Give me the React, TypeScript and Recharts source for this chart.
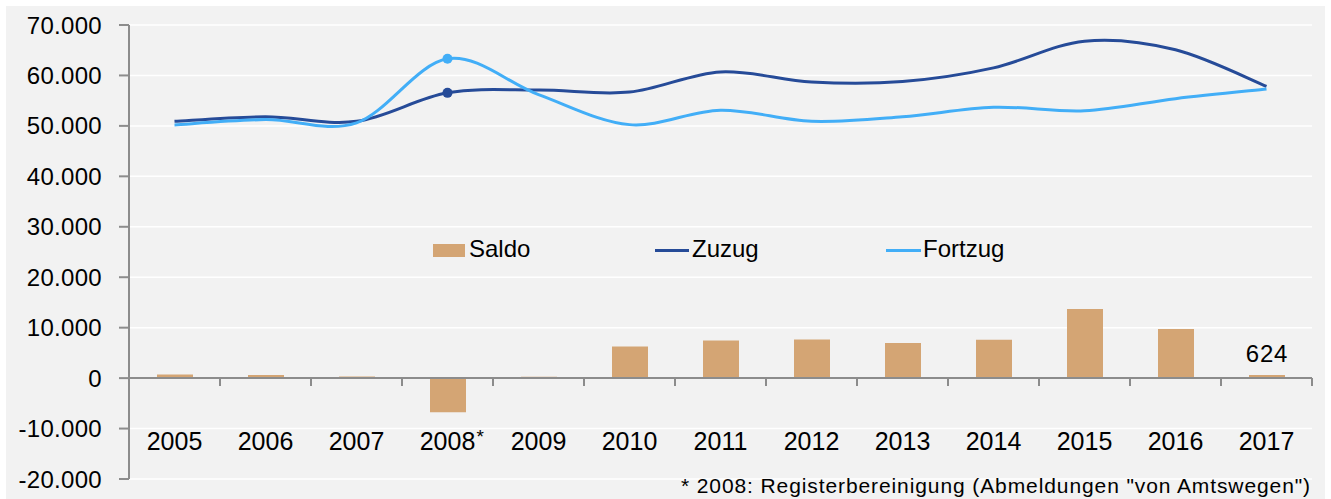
import React from "react";
import { ComposedChart, Bar, Line, XAxis, YAxis, CartesianGrid, ReferenceLine, LabelList } from "recharts";

const years = ["2005", "2006", "2007", "2008*", "2009", "2010", "2011", "2012", "2013", "2014", "2015", "2016", "2017"];
const saldo = [720, 600, 300, -6750, 250, 6270, 7460, 7660, 6940, 7600, 13690, 9720, 624];
const zuzug = [50900, 51800, 50900, 56550, 57100, 56700, 60700, 58700, 58800, 61500, 66800, 65100, 57850];
const fortzug = [50200, 51250, 50600, 63300, 56200, 50250, 53100, 50900, 51800, 53700, 53000, 55400, 57300];
const yTicks = [-20000, -10000, 0, 10000, 20000, 30000, 40000, 50000, 60000, 70000];

const data = years.map((year, i) => ({ year, saldo: saldo[i], zuzug: zuzug[i], fortzug: fortzug[i] }));

const W = 1331;
const H = 499;
const M = { top: 25, right: 19, bottom: 19, left: 0 };
const X_AXIS_H = 1;
const Y_AXIS_W = 129;
const plotLeft = M.left + Y_AXIS_W;
const plotW = W - M.right - plotLeft;
const plotH = H - M.top - M.bottom - X_AXIS_H;
const yMin = yTicks[0];
const yMax = yTicks[yTicks.length - 1];
const zeroY = M.top + (plotH * yMax) / (yMax - yMin);
const band = plotW / years.length;

const FONT = '"Liberation Sans", Arial, sans-serif';
const BAR = "#d4a574";
const DARK = "#264b98";
const LIGHT = "#42aef7";
const AXIS = "#8c8c8c";

const fmt = (v: number) => v.toLocaleString("de-DE");

// Excel-style smoothed line (Catmull-Rom as cubic bezier)
const excelSmooth = (context: any) => {
  let pts: number[][] = [];
  return {
    areaStart() {},
    areaEnd() {},
    lineStart() {
      pts = [];
    },
    point(x: number, y: number) {
      pts.push([+x, +y]);
    },
    lineEnd() {
      if (!pts.length) return;
      context.moveTo(pts[0][0], pts[0][1]);
      for (let i = 0; i < pts.length - 1; i++) {
        const p0 = pts[i - 1] || pts[i];
        const p1 = pts[i];
        const p2 = pts[i + 1];
        const p3 = pts[i + 2] || p2;
        context.bezierCurveTo(
          p1[0] + (p2[0] - p0[0]) / 6,
          p1[1] + (p2[1] - p0[1]) / 6,
          p2[0] - (p3[0] - p1[0]) / 6,
          p2[1] - (p3[1] - p1[1]) / 6,
          p2[0],
          p2[1]
        );
      }
    },
  };
};

const markerDot = (color: string) => (props: any) => {
  const { cx, cy, payload, index } = props;
  if (payload.year !== "2008*") return <g key={index} />;
  return <circle key={index} cx={cx} cy={cy} r={5} fill={color} stroke="none" />;
};

const XTick = (props: any) => {
  const { x, payload } = props;
  const label: string = payload.value;
  const star = label.endsWith("*");
  const base = star ? label.slice(0, -1) : label;
  return (
    <g>
      <line x1={x + band / 2} x2={x + band / 2} y1={zeroY} y2={zeroY + 8} stroke={AXIS} strokeWidth={2} />
      <text x={x} y={450} textAnchor="middle" fontSize={25} fontFamily={FONT} fill="#000">
        {base}
      </text>
      {star && (
        <text x={x + 29} y={443} textAnchor="start" fontSize={19} fontFamily={FONT} fill="#000">
          *
        </text>
      )}
    </g>
  );
};

const LastLabel = (props: any) => {
  const { x, y, width, value, index } = props;
  if (index !== years.length - 1) return null;
  return (
    <text x={x + width / 2} y={y - 13} textAnchor="middle" fontSize={24} letterSpacing={0.8} fontFamily={FONT} fill="#000">
      {value}
    </text>
  );
};

function LegendRow() {
  const textStyle: React.CSSProperties = { fontSize: 24, fontFamily: FONT, color: "#000", lineHeight: "28px", whiteSpace: "nowrap" };
  return (
    <div style={{ position: "absolute", left: 433, top: 235, height: 28, width: 620 }}>
      <div style={{ position: "absolute", left: 0, top: 9, width: 32, height: 13, background: BAR }} />
      <span style={{ ...textStyle, position: "absolute", left: 36, top: 0 }}>Saldo</span>
      <div style={{ position: "absolute", left: 222, top: 14, width: 34, height: 3, background: DARK }} />
      <span style={{ ...textStyle, position: "absolute", left: 259, top: 0 }}>Zuzug</span>
      <div style={{ position: "absolute", left: 453, top: 14, width: 35, height: 3, background: LIGHT }} />
      <span style={{ ...textStyle, position: "absolute", left: 490, top: 0 }}>Fortzug</span>
    </div>
  );
}

export default function App() {
  return (
    <div style={{ position: "absolute", left: 0, top: 0, width: W, height: H, background: "#fff", overflow: "hidden" }}>
      <div style={{ position: "absolute", left: 6, top: 6, width: W - 12, height: H - 6, background: "#f2f2f2" }} />
      <div style={{ position: "absolute", left: 0, top: 0 }}>
        <ComposedChart width={W} height={H} data={data} margin={M}>
          <CartesianGrid vertical={false} stroke="#ffffff" strokeWidth={1.5} />
          <XAxis dataKey="year" height={X_AXIS_H} axisLine={false} tickLine={false} tick={<XTick />} interval={0} />
          <YAxis
            domain={[yMin, yMax]}
            ticks={yTicks}
            width={Y_AXIS_W}
            tickFormatter={fmt}
            axisLine={{ stroke: AXIS, strokeWidth: 2 }}
            tickLine={{ stroke: AXIS, strokeWidth: 2 }}
            tickSize={10}
            tickMargin={17}
            tick={{ fontSize: 24, fontFamily: FONT, fill: "#000", letterSpacing: 0.3 }}
            allowDataOverflow
          />
          <ReferenceLine y={0} stroke={AXIS} strokeWidth={2} />
          <Bar dataKey="saldo" fill={BAR} barSize={36} isAnimationActive={false}>
            <LabelList dataKey="saldo" content={<LastLabel />} />
          </Bar>
          <Line
            dataKey="zuzug"
            type={excelSmooth as any}
            stroke={DARK}
            strokeWidth={3}
            dot={markerDot(DARK)}
            activeDot={false}
            isAnimationActive={false}
          />
          <Line
            dataKey="fortzug"
            type={excelSmooth as any}
            stroke={LIGHT}
            strokeWidth={3}
            dot={markerDot(LIGHT)}
            activeDot={false}
            isAnimationActive={false}
          />
          <text x={1311} y={493} textAnchor="end" fontSize={21} letterSpacing={0.9} fontFamily={FONT} fill="#000">
            * 2008: Registerbereinigung (Abmeldungen "von Amtswegen")
          </text>
        </ComposedChart>
      </div>
      <LegendRow />
    </div>
  );
}
